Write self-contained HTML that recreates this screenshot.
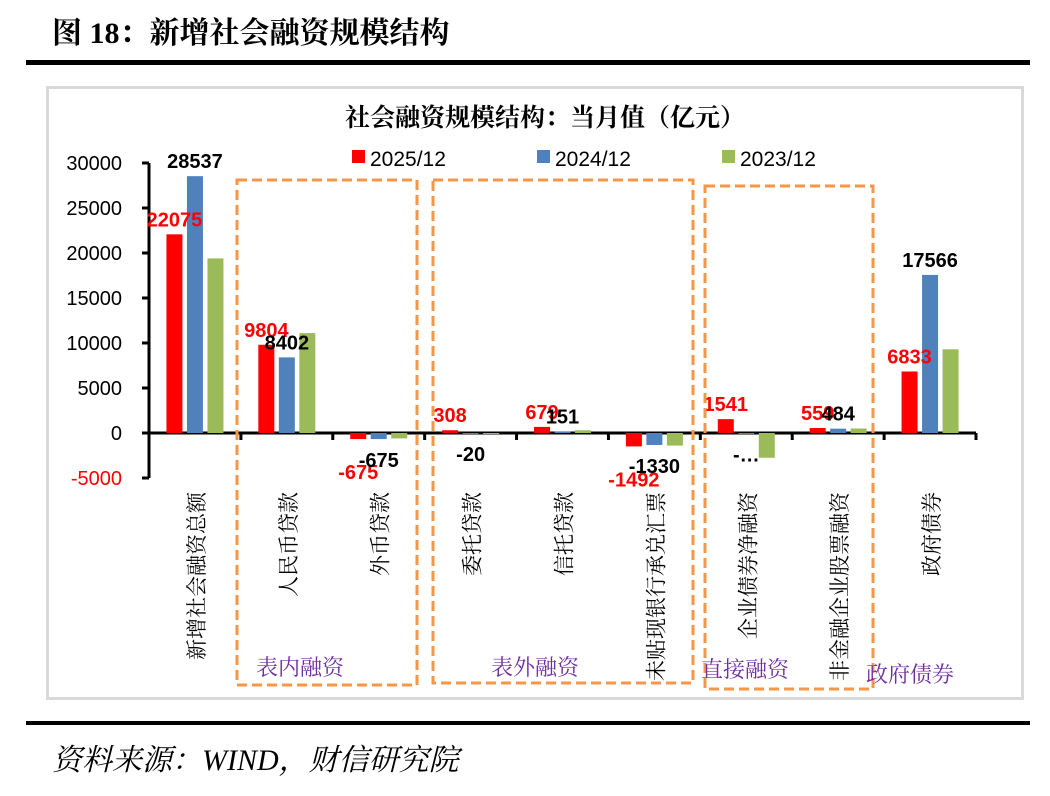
<!DOCTYPE html>
<html><head><meta charset="utf-8">
<style>
body{margin:0;background:#fff;width:1050px;height:791px;overflow:hidden}
svg text{font-family:"Liberation Serif","Noto Serif CJK SC",serif}
.sans{font-family:"Liberation Sans","Noto Sans CJK SC",sans-serif}
</style></head>
<body>
<svg id="chart" width="1050" height="791" viewBox="0 0 1050 791">
<text x="52" y="43" font-size="30" font-weight="bold">图 18：新增社会融资规模结构</text>
<rect x="26" y="60" width="1004" height="5" fill="#000"/>
<rect x="47.5" y="87.5" width="975" height="611" fill="#fff" stroke="#d9d9d9" stroke-width="3"/>
<text x="545" y="126" font-size="25" font-weight="bold" text-anchor="middle">社会融资规模结构：当月值（亿元）</text>
<g id="legend"></g>
<g id="axes"></g>
<g id="bars"></g>
<g id="labels"></g>
<g id="boxes"></g>
<rect x="26" y="721" width="1004" height="4" fill="#000"/>
<text x="52" y="770" font-size="30" font-style="italic">资料来源：WIND，财信研究院</text>
</svg>
<script>
const categories=["新增社会融资总额","人民币贷款","外币贷款","委托贷款","信托贷款","未贴现银行承兑汇票","企业债券净融资","非金融企业股票融资","政府债券"];
const series2025=[22075,9804,-675,308,679,-1492,1541,559,6833];
const series2024=[28537,8402,-675,-20,151,-1330,-60,484,17566];
const series2023=[19400,11100,-600,-80,300,-1400,-2750,500,9300];
const seriesNames=["2025/12","2024/12","2023/12"];
const seriesColors=["#ff0000","#4f81bd","#9bbb59"];
const yTicks=[30000,25000,20000,15000,10000,5000,0,-5000];
const groupNames=["表内融资","表外融资","直接融资","政府债券"];

const NS="http://www.w3.org/2000/svg";
function mk(tag,attrs,parent){const e=document.createElementNS(NS,tag);for(const k in attrs)e.setAttribute(k,attrs[k]);parent.appendChild(e);return e;}
const X0=149,X1=976,Y0=433,PX=45/5000;
const cw=(X1-X0)/categories.length;
const y=v=>Y0-v*PX;
const cx=i=>X0+cw*(i+0.5);
const axes=document.getElementById('axes'),bars=document.getElementById('bars'),labels=document.getElementById('labels'),legend=document.getElementById('legend'),boxes=document.getElementById('boxes');

let ya=mk('line',{x1:X0,x2:X0,y1:y(30000),y2:y(-5000),stroke:'#000','stroke-width':3},axes);


yTicks.forEach(t=>{
  let tl=mk('line',{x1:X0-7,x2:X0,y1:y(t),y2:y(t),stroke:'#000','stroke-width':3},axes);
  
  
  let tx=mk('text',{x:X0-27,y:y(t)+7,'font-size':20,'text-anchor':'end',class:'sans',fill:t<0?'#ff0000':'#000'},axes);
  tx.textContent=t;
  
  
});
let xa=mk('line',{x1:X0,x2:X1,y1:Y0,y2:Y0,stroke:'#000','stroke-width':3},axes);


for(let i=1;i<=categories.length;i++){
  let tl=mk('line',{x1:X0+cw*i,x2:X0+cw*i,y1:Y0,y2:Y0+7,stroke:'#000','stroke-width':3},axes);
  
  
}
categories.forEach((c,i)=>{
  const px=cx(i)+2,py=492;
  let t=mk('text',{x:px,y:py,'font-size':21,'text-anchor':'end','dominant-baseline':'central',transform:`rotate(-90 ${px} ${py})`},axes);
  t.textContent=c;
  
  
});

const allSeries=[series2025,series2024,series2023];
const bw=16,step=20.5;
allSeries.forEach((s,k)=>{
  s.forEach((v,i)=>{
    const bx=cx(i)+(k-1)*step-bw/2;
    const top=Math.min(y(v),Y0),h=Math.abs(y(v)-Y0);
    let r=mk('rect',{x:bx,y:top,width:bw,height:Math.max(h,1),fill:seriesColors[k]},bars);
    
    
  });
});
const lab=(v,k,i)=>{
  const bx=cx(i)+(k-1)*step;
  let ly=v>=0?y(v)-8:y(v)+28;
  if(k===0&&v<0) ly+=12;
  let txt=String(v);
  if(k===1&&i===6) txt='-…';
  let t=mk('text',{x:bx,y:ly,'font-size':20,'font-weight':'bold','text-anchor':'middle',class:'sans',fill:k===0?'#ff0000':'#000'},labels);
  t.textContent=txt;
  
  
};
series2025.forEach((v,i)=>lab(v,0,i));
series2024.forEach((v,i)=>lab(v,1,i));

seriesNames.forEach((n,k)=>{
  const lx=352+k*185;
  let r=mk('rect',{x:lx,y:150,width:13,height:13,fill:seriesColors[k]},legend);
  
  
  let t=mk('text',{x:lx+18,y:166,'font-size':21,class:'sans'},legend);
  t.textContent=n;
  
  
});

const boxRects=[[237,180,180,505],[433,180,260,503],[705,186,168,503]];
boxRects.forEach(b=>{
  let r=mk('rect',{x:b[0],y:b[1],width:b[2],height:b[3],fill:'none',stroke:'#f79646','stroke-width':3,'stroke-dasharray':'10 5'},boxes);
  
  
});
const groupPos=[[300,675],[535,675],[745,677],[910,682]];
groupNames.forEach((g,i)=>{
  let t=mk('text',{x:groupPos[i][0],y:groupPos[i][1],'font-size':22,'text-anchor':'middle',fill:'#7030a0'},boxes);
  t.textContent=g;
  
  
});
</script>
</body></html>
